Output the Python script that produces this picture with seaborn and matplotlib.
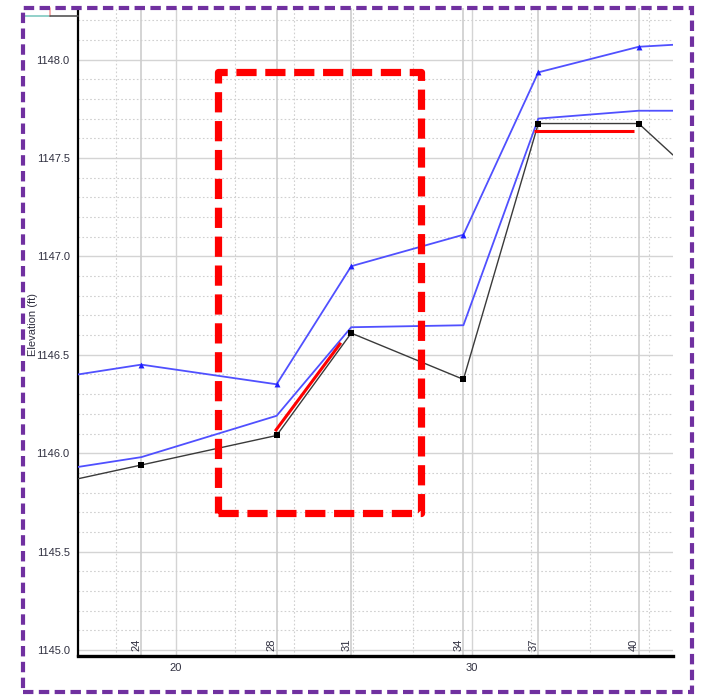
import numpy as np
import pandas as pd
import matplotlib
matplotlib.use('Agg')
import matplotlib.pyplot as plt
import seaborn as sns
from matplotlib.patches import Rectangle
from matplotlib.lines import Line2D
from matplotlib.ticker import MultipleLocator
import matplotlib.transforms as mtransforms

# -- 1. values --
station_labels = ['24', '28', '31', '34', '37', '40']
station_x = [18.84, 23.41, 25.93, 29.72, 32.25, 35.64]
ground = [1145.94, 1146.09, 1146.61, 1146.375, 1147.675, 1147.675]
ws = [1145.98, 1146.19, 1146.64, 1146.65, 1147.70, 1147.74]
eg = [1146.45, 1146.35, 1146.95, 1147.11, 1147.935, 1148.065]

# where each line leaves the view (left edge, right edge)
edge_x = [16.70, 36.80]
ground_edge = [1145.87, 1147.515]
ws_edge = [1145.93, 1147.74]
eg_edge = [1146.40, 1148.075]

# red mark-ups
red_slope_x = [23.36, 25.58]
red_slope_y = [1146.112, 1146.561]
red_flat_x = [32.11, 35.48]
red_flat_y = [1147.637, 1147.637]
box_x = [21.44, 28.28]
box_y = [1145.694, 1147.936]

# -- 2. long table for seaborn --
rows = []
for name, vals, edges in [('ground', ground, ground_edge),
                          ('ws', ws, ws_edge),
                          ('eg', eg, eg_edge)]:
    xs = [edge_x[0]] + station_x + [edge_x[1]]
    ys = [edges[0]] + vals + [edges[1]]
    for x, y in zip(xs, ys):
        rows.append({'series': name, 'x': x, 'elev': y})
df = pd.DataFrame(rows)
pts = pd.DataFrame({'x': station_x, 'ground': ground, 'eg': eg})

# -- 3. figure --
sns.set_style('white')
plt.rcParams['font.family'] = ['Liberation Sans', 'DejaVu Sans']

fig = plt.figure(figsize=(7.02, 6.96), dpi=100)
ax = fig.add_axes([78/702, 1 - 655.7/696, 595/702, (655.7 - 8)/696])

line_style = {
    'ground': ('#3a3a3a', 1.0),
    'ws': ('#5050ff', 1.3),
    'eg': ('#5050ff', 1.3),
}
for name, (col, lw) in line_style.items():
    sns.lineplot(data=df[df['series'] == name], x='x', y='elev', color=col,
                 lw=lw, estimator=None, sort=True, ax=ax, zorder=4)

sns.scatterplot(data=pts, x='x', y='ground', marker='s', color='black',
                s=16, edgecolor='black', linewidth=0, ax=ax, zorder=5)
sns.scatterplot(data=pts, x='x', y='eg', marker='^', color='#2020ff',
                s=18, linewidth=0, ax=ax, zorder=5)

# red lines
ax.plot(red_slope_x, red_slope_y, color='#ff0000', lw=2.2, zorder=6,
        solid_capstyle='butt')
ax.plot(red_flat_x, red_flat_y, color='#ff0000', lw=2.2, zorder=6,
        solid_capstyle='butt')

# red dashed box
ax.add_patch(Rectangle((box_x[0], box_y[0]), box_x[1] - box_x[0], box_y[1] - box_y[0],
                       fill=False, ec='#ff0000', lw=5.2, ls=(0, (2.8, 1.2)),
                       joinstyle='round', zorder=7, clip_on=False))

# -- 4. axes --
ax.set_xlim(16.70, 36.80)
ax.set_ylim(1144.971, 1148.262)
ax.xaxis.set_major_locator(MultipleLocator(10))
ax.xaxis.set_minor_locator(MultipleLocator(2))
ax.yaxis.set_major_locator(MultipleLocator(0.5))
ax.yaxis.set_minor_locator(MultipleLocator(0.1))
ax.yaxis.set_major_formatter(matplotlib.ticker.FormatStrFormatter('%.1f'))

ax.grid(which='major', color='#d4d4d4', lw=1.0, ls='-', zorder=0)
ax.grid(which='minor', color='#d0d0d0', lw=0.8, ls=(0, (1.5, 2)), zorder=0)
for x in station_x:
    ax.axvline(x, color='#cdcdcd', lw=1.2, zorder=1)

ax.tick_params(which='both', direction='out', length=3, width=1, color='black',
               labelsize=8, labelcolor='#303040', pad=2)
ax.tick_params(axis='y', which='both', length=4)
ax.set_xlabel('')
ax.set_ylabel('')

for s in ['top', 'right']:
    ax.spines[s].set_visible(False)
ax.spines['left'].set_linewidth(1.6)
ax.spines['bottom'].set_linewidth(2.4)
ax.spines['left'].set_color('black')
ax.spines['bottom'].set_color('black')

# station labels sitting on the bottom axis
trans = mtransforms.blended_transform_factory(ax.transData, ax.transAxes)
for x, lab in zip(station_x, station_labels):
    ax.text(x, 0.007, lab, transform=trans, rotation=90, ha='right',
            va='bottom', fontsize=8, color='#303040', zorder=3)

fig.text(33/702, 1 - 325/696, 'Elevation (ft)', rotation=90, ha='center',
         va='center', fontsize=8, color='#303040')

# leftover legend bits in the top-left corner
def px(x, y):
    return x / 702, 1 - y / 696

for (x0, y0), (x1, y1), col in [((25, 16), (50, 16), '#7fc8c0'),
                                ((50, 8), (50, 16), '#f4a0a0'),
                                ((50, 16), (78, 16), '#555555')]:
    a, b = px(x0, y0)
    c, d = px(x1, y1)
    fig.add_artist(Line2D([a, c], [b, d], transform=fig.transFigure,
                          color=col, lw=1.2))

# purple dashed border round the whole shot
fig.add_artist(Rectangle((23/702, 1 - 692/696), 669/702, 684/696,
                         transform=fig.transFigure, fill=False, ec='#7030a0',
                         lw=3, ls=(0, (2.5, 1.3)), zorder=10))

fig.savefig('out.png', dpi=100)
